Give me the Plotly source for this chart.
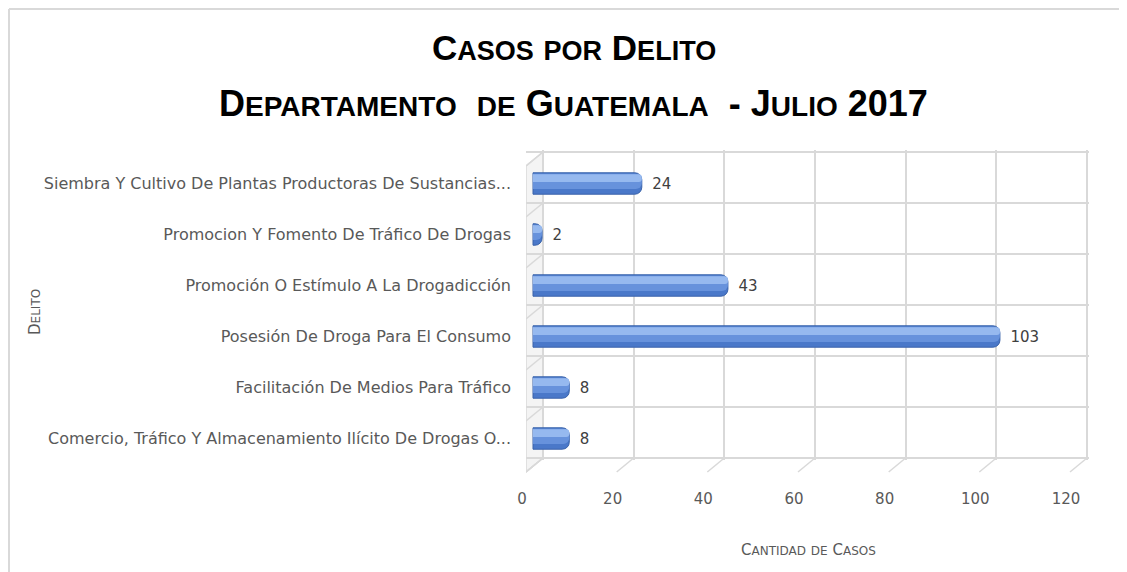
import plotly.graph_objects as go

# Data
categorias = [
    "Siembra Y Cultivo De Plantas Productoras De Sustancias...",
    "Promocion Y Fomento De Tráfico De Drogas",
    "Promoción O Estímulo A La Drogadicción",
    "Posesión De Droga Para El Consumo",
    "Facilitación De Medios Para Tráfico",
    "Comercio, Tráfico Y Almacenamiento Ilícito De Drogas O...",
]
casos = [24, 2, 43, 103, 8, 8]
x_ticks = [0, 20, 40, 60, 80, 100, 120]

# page has an 8px body margin, so the figure is a bit smaller than the window
OFF = 8
W, H = 1127 - OFF, 572 - OFF
PAD = 2                                  # keep edge grid lines inside the plot area
L, T = 526 - OFF, 152 - PAD - OFF        # plot area includes the 3d side wall
R, B = W - (1087 + PAD - OFF), H - (458 + PAD - OFF)
PW, PH = W - L - R, H - T - B
SCALE = (1087 - 543) / 120               # px per case
ROW = (458 - 152) / 6                    # px per category
GRAY = "#d9d9d9"
TXT = "#595959"
FONT = "DejaVu Sans"


def px_x(p):
    return (p - OFF - L) / PW


def px_y(p):
    return (H - B - (p - OFF)) / PH


def smallcaps(s, big, small):
    out = ""
    for ch in s:
        if ch.islower():
            out += f"<span style='font-size:{small}px'>{ch.upper()}</span>"
        else:
            out += f"<span style='font-size:{big}px'>{ch}</span>"
    return out


idx = list(range(len(categorias)))
pad_rows = PAD / ROW
shift_rows = 6 / ROW

fig = go.Figure()
# cylinder-ish bars: dark base, mid band, light highlight
fig.add_trace(go.Bar(
    x=casos, y=idx, orientation="h", xaxis="x2", yaxis="y2",
    width=0.42,
    marker=dict(color="#4a78c9", line=dict(color="#3a63aa", width=1), cornerradius=7),
    text=casos, texttemplate="\u2002%{x}", textposition="outside", cliponaxis=False,
    textfont=dict(family=FONT, size=15, color="#404040"),
    hoverinfo="x+y",
))
fig.add_trace(go.Bar(
    x=casos, y=idx, orientation="h", xaxis="x2", yaxis="y2",
    width=0.3, offset=-0.19,
    marker=dict(color="#6792dc", line=dict(width=0), cornerradius=6),
    hoverinfo="skip",
))
fig.add_trace(go.Bar(
    x=casos, y=idx, orientation="h", xaxis="x2", yaxis="y2",
    width=0.15, offset=-0.18,
    marker=dict(color="#96b9ef", line=dict(width=0), cornerradius=4),
    hoverinfo="skip",
))

shapes = []
top = px_y(152)
bot = px_y(458)
gh = 458 - 152
# left side wall (covers the grid, stays under the bars)
shapes.append(dict(type="path", xref="x", yref="paper", xsizemode="pixel", ysizemode="pixel",
                   xanchor=0, yanchor=top, path="M1,3 L-19,3 L-19,-14 L-17,-14 L0,0 Z",
                   fillcolor="white", line=dict(width=0), layer="between"))
shapes.append(dict(type="path", xref="x", yref="paper", xsizemode="pixel", ysizemode="pixel",
                   xanchor=0, yanchor=top, path=f"M0,0 L0,{-gh} L-17,{-gh - 14} L-17,-14 Z",
                   fillcolor="#f4f4f4", line=dict(color=GRAY, width=1.5), layer="between"))
for k in range(7):
    shapes.append(dict(type="line", xref="x", yref="paper", xsizemode="pixel", ysizemode="pixel",
                       xanchor=0, yanchor=top, x0=0, x1=-17, y0=-k * ROW, y1=-k * ROW - 14,
                       line=dict(color=GRAY, width=1.5), layer="between"))
# floor ticks
for v in x_ticks:
    shapes.append(dict(type="line", xref="x", yref="paper", xsizemode="pixel", ysizemode="pixel",
                       xanchor=v, yanchor=bot, x0=0, x1=-17, y0=0, y1=-14,
                       line=dict(color=GRAY, width=1.5)))
# outer chart border (cropped)
shapes.append(dict(type="line", xref="paper", yref="paper", x0=px_x(9), x1=px_x(1140),
                   y0=px_y(9), y1=px_y(9), line=dict(color=GRAY, width=2)))
shapes.append(dict(type="line", xref="paper", yref="paper", x0=px_x(9), x1=px_x(9),
                   y0=px_y(9), y1=px_y(590), line=dict(color=GRAY, width=2)))

annotations = [
    dict(text="<b>" + smallcaps("Casos por Delito", 35, 27) + "</b>", x=px_x(574), y=px_y(48),
         xref="paper", yref="paper", xanchor="center", yanchor="middle", showarrow=False,
         font=dict(family="Liberation Sans", color="#000000")),
    dict(text="<b>" + smallcaps("Departamento  de Guatemala  - Julio 2017", 36, 28) + "</b>",
         x=px_x(573), y=px_y(103), xref="paper", yref="paper", xanchor="center", yanchor="middle",
         showarrow=False, font=dict(family="Liberation Sans", color="#000000")),
    dict(text=smallcaps("Delito", 15, 12), x=px_x(35), y=px_y(312), textangle=-90,
         xref="paper", yref="paper", xanchor="center", yanchor="middle", showarrow=False,
         font=dict(family=FONT, color=TXT)),
    dict(text=smallcaps("Cantidad de Casos", 15, 12), x=px_x(808), y=px_y(550),
         xref="paper", yref="paper", xanchor="center", yanchor="middle", showarrow=False,
         font=dict(family=FONT, color=TXT)),
]

fig.update_layout(
    width=W, height=H,
    margin=dict(l=L, r=R, t=T, b=B),
    paper_bgcolor="white", plot_bgcolor="white",
    barmode="overlay", showlegend=False,
    shapes=shapes, annotations=annotations,
    # back-wall grid axis
    xaxis=dict(range=[-17 / SCALE, 120 + PAD / SCALE], tickvals=x_ticks, showgrid=True,
               gridcolor=GRAY, gridwidth=1.5, zeroline=False, showline=False, ticks="",
               ticklabelshift=-21, ticklabelstandoff=28,
               tickfont=dict(family=FONT, size=15, color=TXT)),
    yaxis=dict(range=[5.5 + pad_rows, -0.5 - pad_rows], tickvals=[i - 0.5 for i in range(7)],
               showticklabels=False, showgrid=True, gridcolor=GRAY, gridwidth=1.5,
               zeroline=False, ticks=""),
    # bars axis, sitting a little in front of the wall
    xaxis2=dict(overlaying="x", range=[-7 / SCALE, (1087 + PAD - 533) / SCALE], visible=False),
    yaxis2=dict(overlaying="y",
                range=[5.5 + pad_rows - shift_rows, -0.5 - pad_rows - shift_rows],
                tickvals=idx, ticktext=categorias, showgrid=False, zeroline=False, ticks="",
                ticklabelstandoff=14, tickfont=dict(family=FONT, size=16, color=TXT)),
)

fig.write_html("out.html")
